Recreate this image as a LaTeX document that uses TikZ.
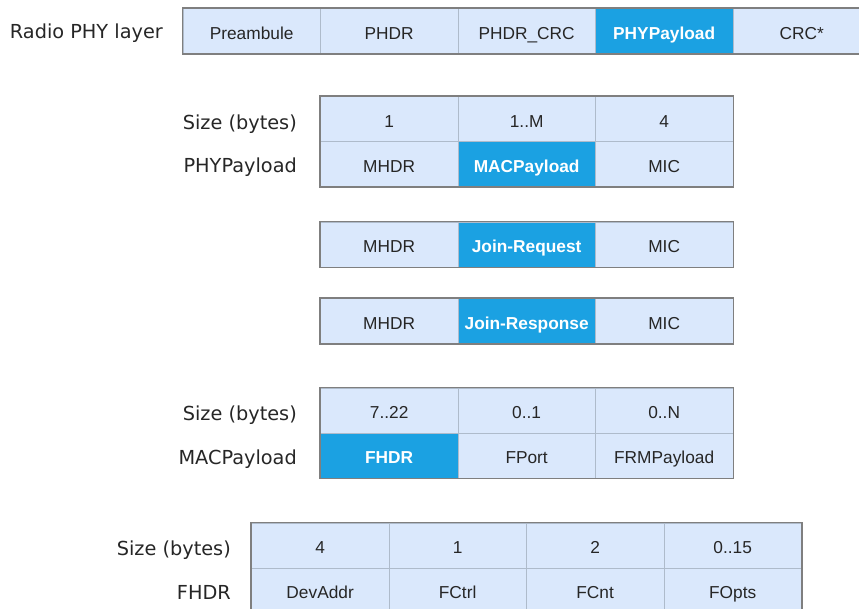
\documentclass[tikz,border=0pt]{standalone}
\usepackage{fontspec}
\setmainfont{Liberation Sans}
\newfontfamily\labelfont{DejaVu Sans}
\definecolor{cellfill}{HTML}{DAE8FC}
\definecolor{hlfill}{HTML}{1BA1E2}
\definecolor{sepline}{HTML}{AEBBCB}
\definecolor{frameline}{HTML}{7F7F7F}
\definecolor{txt}{HTML}{262626}
\tikzset{
  cell/.style={draw=sepline, line width=0.8pt, fill=cellfill, anchor=north west,
    minimum width=137.5pt, minimum height=45pt, inner sep=0pt, text=txt,
    text height=17pt, text depth=0pt,
    font=\fontsize{17.3}{19}\selectfont},
  hl/.style={cell, fill=hlfill, text=white, font=\fontsize{17.3}{19}\selectfont\bfseries},
  frame/.style={draw=frameline, line width=1.4pt},
  rowlabel/.style={anchor=east, inner sep=0pt, text=txt, text height=14pt, text depth=0pt,
    font=\labelfont\fontsize{19.3}{21}\selectfont}
}
\begin{document}
\begin{tikzpicture}[x=1pt, y=-1pt]
\useasboundingbox (0,0) rectangle (859,608);
\clip (0,0) rectangle (859,608);

% Radio PHY layer
\node[rowlabel] (lphy) at (163,31.5) {Radio PHY layer};
\node[cell] (p1) at (182.5,8) {Preambule};
\node[cell] (p2) at (320,8) {PHDR};
\node[cell] (p3) at (457.5,8) {PHDR\_CRC};
\node[hl]   (p4) at (595,8) {PHYPayload};
\node[cell] (p5) at (732.5,8) {CRC*};
\draw[frame] (p1.north west) rectangle (p5.south east);

% PHYPayload
\node[rowlabel] (ls1) at (297,122) {Size (bytes)};
\node[rowlabel] (lpp) at (297,165.5) {PHYPayload};
\node[cell] (s1a) at (320,96) {1};
\node[cell] (s1b) at (457.5,96) {1..M};
\node[cell] (s1c) at (595,96) {4};
\node[cell] (m1a) at (320,141) {MHDR};
\node[hl]   (m1b) at (457.5,141) {MACPayload};
\node[cell] (m1c) at (595,141) {MIC};
\draw[frame] (s1a.north west) rectangle (m1c.south east);

% Join-Request
\node[cell] (j1a) at (320,221.5) {MHDR};
\node[hl]   (j1b) at (457.5,221.5) {Join-Request};
\node[cell] (j1c) at (595,221.5) {MIC};
\draw[frame] (j1a.north west) rectangle (j1c.south east);

% Join-Response
\node[cell] (j2a) at (320,298) {MHDR};
\node[hl]   (j2b) at (457.5,298) {Join-Response};
\node[cell] (j2c) at (595,298) {MIC};
\draw[frame] (j2a.north west) rectangle (j2c.south east);

% MACPayload
\node[rowlabel] (ls2) at (297,413.5) {Size (bytes)};
\node[rowlabel] (lmp) at (297,457.5) {MACPayload};
\node[cell] (s2a) at (320,387.5) {7..22};
\node[cell] (s2b) at (457.5,387.5) {0..1};
\node[cell] (s2c) at (595,387.5) {0..N};
\node[hl]   (m2a) at (320,432.5) {FHDR};
\node[cell] (m2b) at (457.5,432.5) {FPort};
\node[cell] (m2c) at (595,432.5) {FRMPayload};
\draw[frame] (s2a.north west) rectangle (m2c.south east);

% FHDR
\node[rowlabel] (ls3) at (231,548) {Size (bytes)};
\node[rowlabel] (lfh) at (231,592.5) {FHDR};
\node[cell] (s3a) at (251,522.5) {4};
\node[cell] (s3b) at (388.5,522.5) {1};
\node[cell] (s3c) at (526,522.5) {2};
\node[cell] (s3d) at (663.5,522.5) {0..15};
\node[cell] (f3a) at (251,567.5) {DevAddr};
\node[cell] (f3b) at (388.5,567.5) {FCtrl};
\node[cell] (f3c) at (526,567.5) {FCnt};
\node[cell] (f3d) at (663.5,567.5) {FOpts};
\draw[frame] (s3a.north west) rectangle (f3d.south east);
\end{tikzpicture}
\end{document}
